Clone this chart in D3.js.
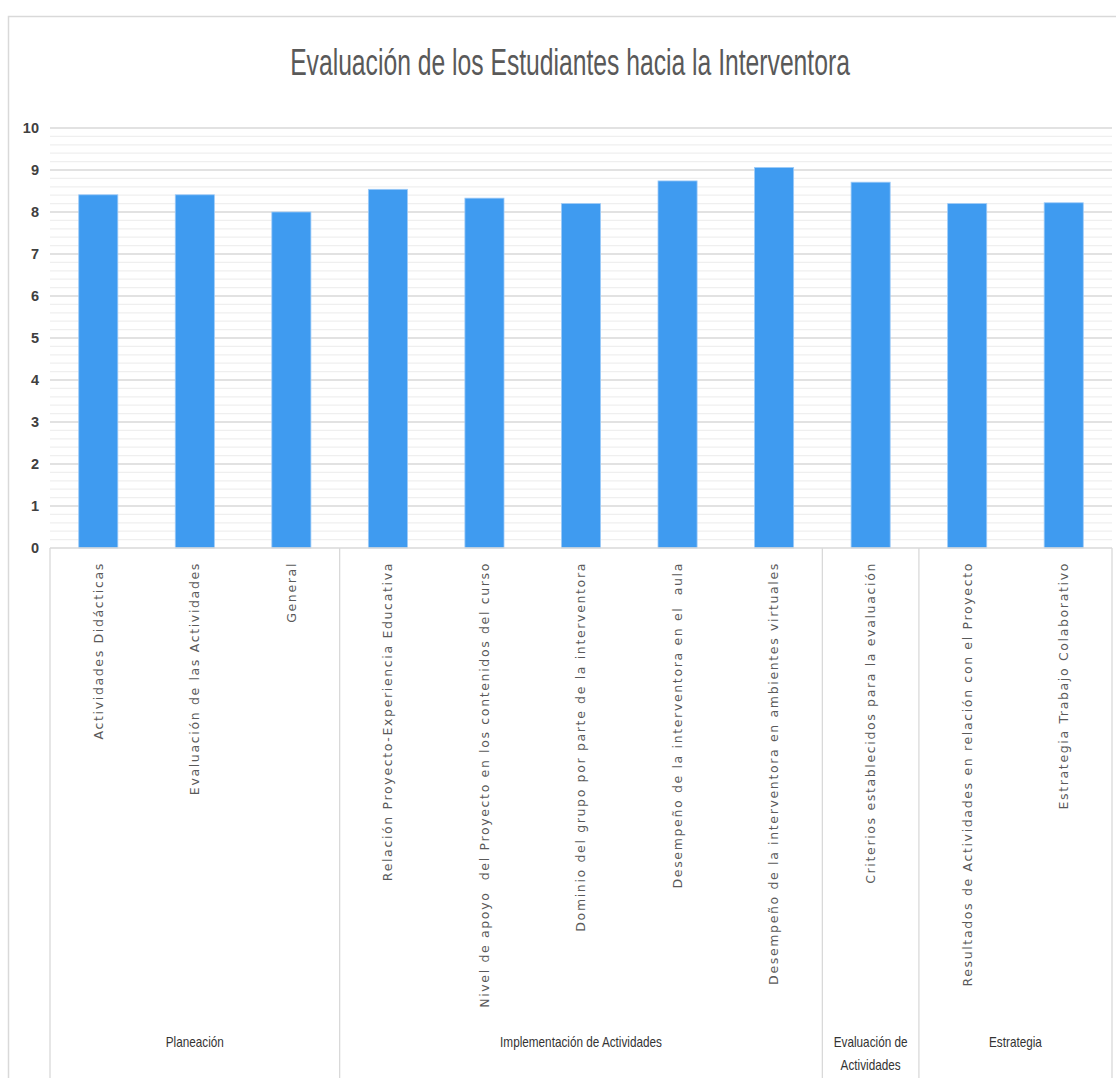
<!DOCTYPE html>
<html>
<head>
<meta charset="utf-8">
<script src="https://cdn.jsdelivr.net/npm/d3@7"></script>
<style>
  html, body { margin: 0; padding: 0; background: #ffffff; }
  svg { display: block; }
</style>
</head>
<body>
<div id="chart"></div>
<script>
// Criteria evaluated by the students, in drawing order
const categories = [
  "Actividades Didácticas",
  "Evaluación de las Actividades",
  "General",
  "Relación Proyecto-Experiencia Educativa",
  "Nivel de apoyo  del Proyecto en los contenidos del curso",
  "Dominio del grupo por parte de la interventora",
  "Desempeño de la interventora en el  aula",
  "Desempeño de la interventora en ambientes virtuales",
  "Criterios establecidos para la evaluación",
  "Resultados de Actividades en relación con el Proyecto",
  "Estrategia Trabajo Colaborativo"
];

// Average score per criterion (0–10)
const scores = [8.41, 8.41, 8.0, 8.54, 8.33, 8.2, 8.74, 9.06, 8.71, 8.2, 8.22];

// Criterion groups: label lines and how many criteria each spans
const groupLabels = [
  ["Planeación"],
  ["Implementación de Actividades"],
  ["Evaluación de", "Actividades"],
  ["Estrategia"]
];
const groupSizes = [3, 5, 1, 2];

const yTicks = [0, 1, 2, 3, 4, 5, 6, 7, 8, 9, 10];

const W = 1116, H = 1078;
const plot = { left: 50, right: 1112, top: 128, bottom: 548 };
const sans = "'Liberation Sans', 'DejaVu Sans', sans-serif";

const svg = d3.select("#chart").append("svg")
  .attr("width", W).attr("height", H);

// Chart frame
svg.append("path")
  .attr("d", `M8.5,${H} V16.5 H${W}`)
  .attr("fill", "none")
  .attr("stroke", "#d9d9d9")
  .attr("stroke-width", 1.5);

// Title: tall, condensed lettering about 560px wide
const title = svg.append("text")
  .attr("text-anchor", "middle")
  .attr("font-family", sans)
  .attr("font-size", 37)
  .attr("fill", "#595959")
  .text("Evaluación de los Estudiantes hacia la Interventora");
const tw = title.node().getComputedTextLength();
const tsx = tw > 0 ? 560 / tw : 1;
title.attr("transform", `translate(570,75) scale(${tsx},1)`);

const x = d3.scaleBand()
  .domain(d3.range(categories.length))
  .range([plot.left, plot.right])
  .paddingInner(0.595)
  .paddingOuter(0.2975);

const y = d3.scaleLinear()
  .domain([0, 10])
  .range([plot.bottom, plot.top]);

// Minor gridlines every 0.2
const minor = d3.range(0, 10.001, 0.2).filter(v => Math.abs(v - Math.round(v)) > 1e-6);
svg.append("g").selectAll("line")
  .data(minor).join("line")
  .attr("x1", plot.left).attr("x2", plot.right)
  .attr("y1", d => y(d)).attr("y2", d => y(d))
  .attr("stroke", "#efefef")
  .attr("stroke-width", 1.3);

// Major gridlines at each integer
svg.append("g").selectAll("line")
  .data(yTicks.filter(d => d > 0)).join("line")
  .attr("x1", plot.left).attr("x2", plot.right)
  .attr("y1", d => y(d)).attr("y2", d => y(d))
  .attr("stroke", "#d9d9d9")
  .attr("stroke-width", 1.3);

// Y axis labels
const yAxis = d3.axisLeft(y).tickValues(yTicks).tickSize(0).tickPadding(0).tickFormat(d3.format("d"));
const yg = svg.append("g")
  .attr("transform", `translate(39,0)`)
  .call(yAxis);
yg.select(".domain").remove();
yg.selectAll("text")
  .attr("font-family", sans)
  .attr("font-size", 14.5)
  .attr("font-weight", 600)
  .attr("fill", "#404040");

// Bars
svg.append("g").selectAll("rect")
  .data(scores).join("rect")
  .attr("x", (d, i) => x(i))
  .attr("width", x.bandwidth())
  .attr("y", d => y(d))
  .attr("height", d => y(0) - y(d))
  .attr("fill", "#3f9bf0")
  .attr("stroke", "#9fcbf7")
  .attr("stroke-width", 0.8);

// Category axis line
svg.append("line")
  .attr("x1", plot.left).attr("x2", plot.right)
  .attr("y1", plot.bottom).attr("y2", plot.bottom)
  .attr("stroke", "#d9d9d9")
  .attr("stroke-width", 1.3);

// Rotated category labels
svg.append("g").selectAll("text")
  .data(categories).join("text")
  .attr("transform", (d, i) => `translate(${x(i) + x.bandwidth() / 2},562) rotate(-90)`)
  .attr("text-anchor", "end")
  .attr("dy", "0.35em")
  .attr("font-family", "'DejaVu Sans', sans-serif")
  .attr("font-size", 12.5)
  .attr("letter-spacing", 1.65)
  .attr("fill", "#595959")
  .style("white-space", "pre")
  .text(d => d);

// Group separators and group labels
const step = x.step();
const bounds = [0];
groupSizes.forEach(s => bounds.push(bounds[bounds.length - 1] + s));
const xb = i => plot.left + i * step;

svg.append("g").selectAll("line")
  .data(bounds).join("line")
  .attr("x1", d => xb(d)).attr("x2", d => xb(d))
  .attr("y1", plot.bottom).attr("y2", H)
  .attr("stroke", "#d9d9d9")
  .attr("stroke-width", 1.3);

const gl = svg.append("g").selectAll("text")
  .data(groupLabels).join("text")
  .attr("transform", (d, i) => `translate(${(xb(bounds[i]) + xb(bounds[i + 1])) / 2},1047) scale(0.84,1)`)
  .attr("text-anchor", "middle")
  .attr("font-family", sans)
  .attr("font-size", 14)
  .attr("fill", "#333333");
gl.selectAll("tspan")
  .data(d => d).join("tspan")
  .attr("x", 0)
  .attr("dy", (d, i) => i === 0 ? 0 : 23)
  .text(d => d);
</script>
</body>
</html>
